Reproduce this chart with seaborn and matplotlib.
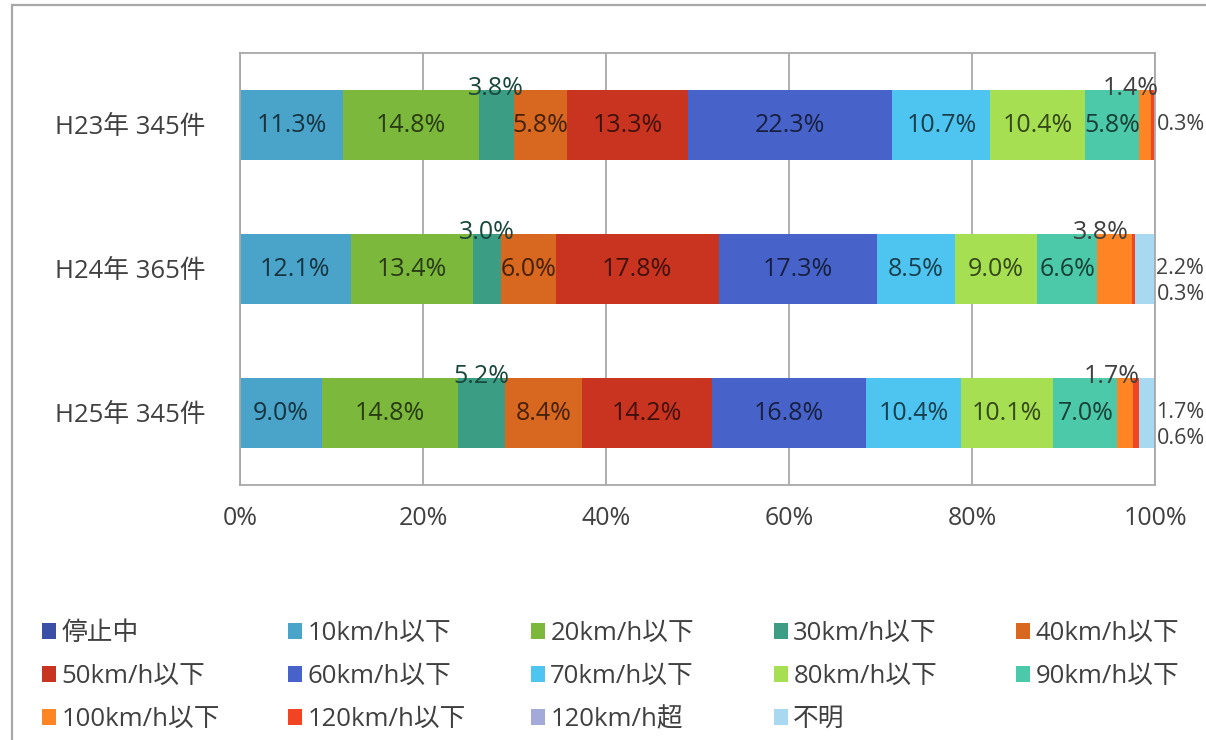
import numpy as np
import pandas as pd
import matplotlib
matplotlib.use("Agg")
import matplotlib.pyplot as plt
from matplotlib.patches import Patch, Rectangle
import matplotlib.colors as mcolors
import seaborn as sns

# ---- data (share of accidents by travelling speed, %) ----
years = ["H23年 345件", "H24年 365件", "H25年 345件"]
speed_classes = ["停止中", "10km/h以下", "20km/h以下", "30km/h以下", "40km/h以下",
                 "50km/h以下", "60km/h以下", "70km/h以下", "80km/h以下", "90km/h以下",
                 "100km/h以下", "120km/h以下", "120km/h超", "不明"]
stopped = [0.0, 0.0, 0.0]
le10 = [11.3, 12.1, 9.0]
le20 = [14.8, 13.4, 14.8]
le30 = [3.8, 3.0, 5.2]
le40 = [5.8, 6.0, 8.4]
le50 = [13.3, 17.8, 14.2]
le60 = [22.3, 17.3, 16.8]
le70 = [10.7, 8.5, 10.4]
le80 = [10.4, 9.0, 10.1]
le90 = [5.8, 6.6, 7.0]
le100 = [1.4, 3.8, 1.7]
le120 = [0.3, 0.3, 0.6]
over120 = [0.0, 0.0, 0.0]
unknown = [0.0, 2.2, 1.7]
x_ticks = [0, 20, 40, 60, 80, 100]

colors = ["#3B4FA6", "#4AA3C9", "#7CB83C", "#3A9D84", "#D8671F",
          "#C93421", "#4763C9", "#4EC4F0", "#A6E052", "#4CC9A9",
          "#FF8424", "#F04422", "#A3AAD9", "#A9D9F1"]

df = pd.DataFrame(
    [stopped, le10, le20, le30, le40, le50, le60, le70, le80, le90,
     le100, le120, over120, unknown],
    index=speed_classes, columns=years).T
cum = df.cumsum(axis=1)

FONT = ["Open Sans", "Noto Sans CJK JP", "DejaVu Sans"]
sns.set_theme(style="white")
plt.rcParams["font.family"] = FONT

FS = 18.5        # labels, ticks, legend
FS_EDGE = 15.5   # labels beside the 100% line

fig = plt.figure(figsize=(12.06, 7.40), dpi=100)
ax = fig.add_axes([240 / 1206, 1 - 485 / 740, 915 / 1206, 432 / 740])

BAR_W = 0.49
# stacked bars: draw cumulative totals from the outermost segment inwards
for i in reversed(range(len(speed_classes))):
    name = speed_classes[i]
    plot_df = pd.DataFrame({"year": years, "value": cum[name].values})
    sns.barplot(data=plot_df, x="value", y="year", orient="h", color=colors[i],
                saturation=1, width=BAR_W, linewidth=0, ax=ax)

ax.set_xlim(0, 100)
ax.set_ylim(2.5, -0.5)
ax.set_xticks(x_ticks)
ax.set_xticklabels([f"{v}%" for v in x_ticks])
ax.set_xlabel("")
ax.set_ylabel("")
ax.set_axisbelow(True)
ax.xaxis.grid(True, color="#A8A8A8", lw=1.3)
ax.yaxis.grid(False)
for sp in ax.spines.values():
    sp.set_color("#A8A8A8")
    sp.set_linewidth(1.3)
ax.tick_params(axis="x", length=0, pad=15, labelsize=FS - 0.5, labelcolor="#404040")
ax.tick_params(axis="y", length=0, pad=25, labelsize=FS, labelcolor="#404040")


def darken(c, f=0.32):
    r, g, b = mcolors.to_rgb(c)
    return (r * f, g * f, b * f)


above = {"30km/h以下", "100km/h以下"}
right = {"120km/h以下", "120km/h超", "不明"}
for r, yr in enumerate(years):
    for j, name in enumerate(speed_classes):
        v = df.loc[yr, name]
        if v <= 0:
            continue
        mid = cum.loc[yr, name] - v / 2
        txt = f"{v:.1f}%"
        if name in right:
            if name == "不明" or df.loc[yr, "不明"] <= 0:
                dy = 0
            else:
                dy = -18
            ax.annotate(txt, (100, r), xytext=(1, dy), textcoords="offset points",
                        ha="left", va="center", fontsize=FS_EDGE, color="#404040",
                        annotation_clip=False)
        elif name in above:
            dx = -10 if name == "100km/h以下" else 0
            ax.annotate(txt, (mid, r - BAR_W / 2), xytext=(dx, 1),
                        textcoords="offset points", ha="center", va="center",
                        fontsize=FS - 0.5,
                        color="#404040" if name == "100km/h以下" else darken(colors[j], 0.45))
        else:
            ax.text(mid, r, txt, ha="center", va="center", fontsize=FS - 0.5,
                    color=darken(colors[j]))

# legend: five columns, filled row by row
col_x = [42, 288, 531, 774, 1016]
for c in range(5):
    idx = [k for k in range(c, len(speed_classes), 5)]
    handles = [Patch(facecolor=colors[k], edgecolor="none") for k in idx]
    labels = [speed_classes[k] for k in idx]
    fig.legend(handles, labels, loc="upper left",
               bbox_to_anchor=(col_x[c] / 1206, 1 - 621 / 740),
               frameon=False, fontsize=FS, labelcolor="#404040",
               handlelength=0.55, handleheight=0.55, handletextpad=0.2,
               labelspacing=0.7, borderpad=0, borderaxespad=0)

# outer chart frame
fig.add_artist(Rectangle((12 / 1206, -0.1), 1.2, 1 - 5 / 740 + 0.1,
                         transform=fig.transFigure, fill=False,
                         ec="#A8A8A8", lw=1.6))

fig.savefig("out.png", dpi=100)
